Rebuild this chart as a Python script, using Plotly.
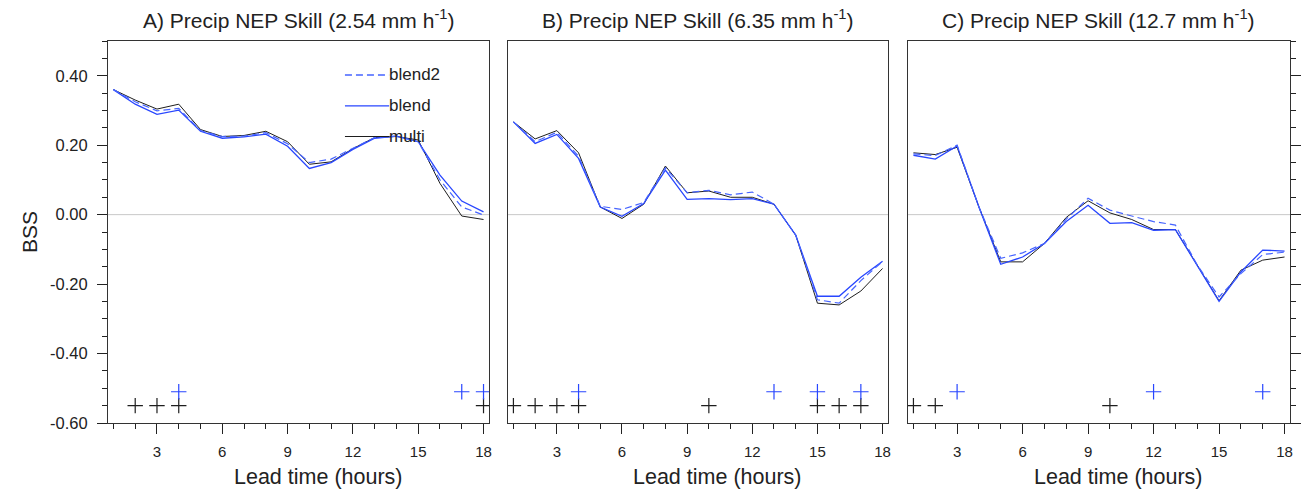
import plotly.graph_objects as go

hours = list(range(1, 19))

A_multi = [0.36, 0.33, 0.304, 0.318, 0.245, 0.225, 0.228, 0.24, 0.21, 0.145, 0.152, 0.19, 0.222, 0.225, 0.215, 0.09, -0.004, -0.014]
A_blend = [0.36, 0.318, 0.289, 0.301, 0.24, 0.22, 0.224, 0.232, 0.197, 0.133, 0.15, 0.188, 0.22, 0.226, 0.21, 0.114, 0.039, 0.008]
A_blend2 = [0.36, 0.325, 0.299, 0.306, 0.242, 0.225, 0.226, 0.236, 0.204, 0.15, 0.16, 0.192, 0.222, 0.226, 0.21, 0.1, 0.022, -0.001]

B_multi = [0.267, 0.218, 0.242, 0.178, 0.022, -0.011, 0.03, 0.14, 0.063, 0.068, 0.05, 0.05, 0.03, -0.059, -0.255, -0.26, -0.22, -0.155]
B_blend = [0.267, 0.205, 0.231, 0.162, 0.022, -0.005, 0.032, 0.128, 0.044, 0.046, 0.043, 0.046, 0.03, -0.059, -0.235, -0.235, -0.18, -0.134]
B_blend2 = [0.267, 0.21, 0.237, 0.168, 0.024, 0.015, 0.035, 0.135, 0.063, 0.07, 0.057, 0.065, 0.03, -0.059, -0.245, -0.255, -0.19, -0.135]

C_multi = [0.178, 0.173, 0.194, 0.022, -0.136, -0.136, -0.083, -0.008, 0.04, 0.005, -0.014, -0.043, -0.043, -0.145, -0.248, -0.16, -0.131, -0.122]
C_blend = [0.171, 0.16, 0.198, 0.022, -0.143, -0.122, -0.083, -0.02, 0.027, -0.025, -0.023, -0.045, -0.043, -0.145, -0.25, -0.165, -0.102, -0.105]
C_blend2 = [0.175, 0.17, 0.2, 0.022, -0.126, -0.11, -0.083, -0.013, 0.047, 0.013, -0.004, -0.02, -0.03, -0.145, -0.237, -0.17, -0.115, -0.108]

A_sig_multi = [2, 3, 4, 18]
A_sig_blend = [4, 17, 18]
B_sig_multi = [1, 2, 3, 4, 10, 15, 16, 17]
B_sig_blend = [4, 13, 15, 17]
C_sig_multi = [1, 2, 10]
C_sig_blend = [3, 12, 17]
sig_level_multi = -0.55
sig_level_blend = -0.51

y_tick_vals = [-0.6, -0.4, -0.2, 0.0, 0.2, 0.4]
y_tick_text = ["-0.60", "-0.40", "-0.20", "0.00", "0.20", "0.40"]
x_tick_vals = [3, 6, 9, 12, 15, 18]
x_tick_text = ["3", "6", "9", "12", "15", "18"]

titles = ["A) Precip NEP Skill (2.54 mm h<sup>-1</sup>)",
          "B) Precip NEP Skill (6.35 mm h<sup>-1</sup>)",
          "C) Precip NEP Skill (12.7 mm h<sup>-1</sup>)"]
x_title = "Lead time (hours)"
y_title = "BSS"
legend_names = ["blend2", "blend", "multi"]

BLUE = "rgb(40,70,255)"
BLUE2 = "rgb(70,100,255)"
BLACK = "rgb(30,30,30)"
TXT = "#222"
FONT = "Liberation Sans, Arial, sans-serif"

panels = [
    (A_multi, A_blend, A_blend2, A_sig_multi, A_sig_blend),
    (B_multi, B_blend, B_blend2, B_sig_multi, B_sig_blend),
    (C_multi, C_blend, C_blend2, C_sig_multi, C_sig_blend),
]

fig = go.Figure()
for i, (m, b, b2, sm, sb) in enumerate(panels):
    xa = "x" if i == 0 else f"x{i+1}"
    ya = "y" if i == 0 else f"y{i+1}"
    fig.add_trace(go.Scatter(x=hours, y=m, mode="lines", line=dict(color=BLACK, width=1),
                             xaxis=xa, yaxis=ya, showlegend=False))
    fig.add_trace(go.Scatter(x=hours, y=b, mode="lines", line=dict(color=BLUE, width=1.3),
                             xaxis=xa, yaxis=ya, showlegend=False))
    fig.add_trace(go.Scatter(x=hours, y=b2, mode="lines", line=dict(color=BLUE2, width=1.2, dash="7px,4px"),
                             xaxis=xa, yaxis=ya, showlegend=False))
    fig.add_trace(go.Scatter(x=sm, y=[sig_level_multi] * len(sm), mode="markers",
                             marker=dict(symbol="cross-thin-open", size=11, color=BLACK,
                                         line=dict(color=BLACK, width=1.2)),
                             xaxis=xa, yaxis=ya, showlegend=False))
    fig.add_trace(go.Scatter(x=sb, y=[sig_level_blend] * len(sb), mode="markers",
                             marker=dict(symbol="cross-thin-open", size=11, color=BLUE,
                                         line=dict(color=BLUE, width=1.2)),
                             xaxis=xa, yaxis=ya, showlegend=False))

domains = [[0.0, 0.3223], [0.3384, 0.6599], [0.6768, 1.0]]
layout = dict(
    width=1301, height=492,
    margin=dict(l=108, r=11, t=41, b=69, pad=0),
    paper_bgcolor="white", plot_bgcolor="white",
    font=dict(family=FONT, size=14, color=TXT),
    showlegend=False,
    hovermode=False,
)
shapes = []
annotations = []
for i in range(3):
    xk = "xaxis" if i == 0 else f"xaxis{i+1}"
    yk = "yaxis" if i == 0 else f"yaxis{i+1}"
    xr = "x" if i == 0 else f"x{i+1}"
    yr = "y" if i == 0 else f"y{i+1}"
    layout[xk] = dict(
        domain=domains[i], anchor=yr, range=[0.75, 18.25], automargin=False,
        tickmode="array", tickvals=x_tick_vals, ticktext=x_tick_text,
        ticks="outside", ticklen=10, tickwidth=1,
        tickcolor=TXT, showline=True, linecolor="#333", linewidth=1, mirror=True,
        showgrid=False, zeroline=False, ticklabelstandoff=5,
        tickfont=dict(size=15, family=FONT, color=TXT),
        minor=dict(dtick=1, tick0=0, ticks="outside", ticklen=5, tickcolor=TXT, showgrid=False),
    )
    ycfg = dict(
        domain=[0, 1], anchor=xr, range=[-0.6, 0.5], automargin=False,
        tickmode="array", tickvals=y_tick_vals, ticktext=y_tick_text,
        showline=True, linecolor="#333", linewidth=1, mirror=True,
        showgrid=False, zeroline=False,
        tickfont=dict(size=16.5, family=FONT, color=TXT),
    )
    if i == 0:
        ycfg.update(ticks="outside", ticklen=10, tickcolor=TXT, ticklabelstandoff=6,
                    minor=dict(dtick=0.05, tick0=0, ticks="outside", ticklen=5, tickcolor=TXT, showgrid=False))
    elif i == 1:
        ycfg.update(ticks="", showticklabels=False)
    else:
        ycfg.update(side="right", ticks="outside", ticklen=10, tickcolor=TXT, showticklabels=False,
                    minor=dict(dtick=0.05, tick0=0, ticks="outside", ticklen=5, tickcolor=TXT, showgrid=False))
    layout[yk] = ycfg

    shapes.append(dict(type="line", xref=f"{xr} domain", yref=yr, x0=0, x1=1, y0=0, y1=0,
                       line=dict(color="rgb(200,200,200)", width=1), layer="below"))
    annotations.append(dict(text=titles[i], xref=f"{xr} domain", yref=f"{yr} domain", x=0.5, y=1,
                            yanchor="middle", yshift=22, showarrow=False,
                            font=dict(size=21, family=FONT, color=TXT)))
    annotations.append(dict(text=x_title, xref=f"{xr} domain", yref=f"{yr} domain", x=0.5, y=0,
                            yanchor="middle", yshift=-54, xshift=20, showarrow=False,
                            font=dict(size=21.5, family=FONT, color=TXT)))

annotations.append(dict(text=y_title, xref="x domain", yref="y domain", x=0, y=0.5, xshift=-79,
                        textangle=-90, showarrow=False, xanchor="center", yanchor="middle",
                        font=dict(size=21, family=FONT, color=TXT)))

# legend drawn inside panel A
leg_styles = [dict(color=BLUE2, width=1.3, dash="7px,4px"), dict(color=BLUE, width=1.3), dict(color=BLACK, width=1)]
leg_y = [0.911, 0.83, 0.75]
for name, st, yy in zip(legend_names, leg_styles, leg_y):
    shapes.append(dict(type="line", xref="x domain", yref="y domain", x0=0.622, x1=0.738, y0=yy, y1=yy,
                       line=st))
    annotations.append(dict(text=name, xref="x domain", yref="y domain", x=0.738, y=yy,
                            xanchor="left", yanchor="middle", showarrow=False, xshift=-2,
                            font=dict(size=17, family=FONT, color=TXT)))

layout["shapes"] = shapes
layout["annotations"] = annotations
fig.update_layout(**layout)
fig.write_html("out.html", config={"displayModeBar": False, "staticPlot": True},
               post_script="document.body.style.margin='0';")
